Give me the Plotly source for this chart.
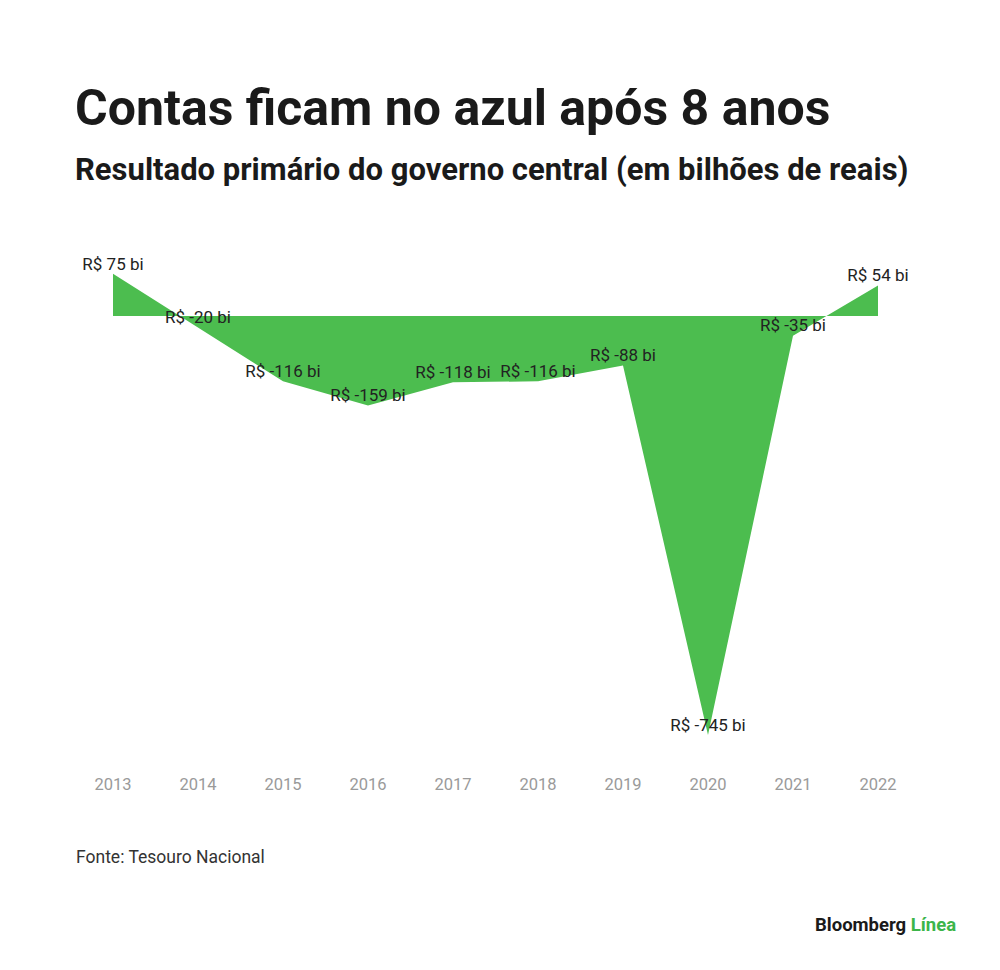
import plotly.graph_objects as go

# Resultado primário do governo central, R$ bilhões
years = [2013, 2014, 2015, 2016, 2017, 2018, 2019, 2020, 2021, 2022]
values = [75, -20, -116, -159, -118, -116, -88, -745, -35, 54]
labels = [f"R$ {v} bi" for v in values]

W, H = 1000, 970
OFF = 8  # page body margin shifts everything by 8px
GREEN = "#4cbd4f"
FONT = "Roboto"


def py(pixel):
    # screen pixel row -> paper y
    return 1 - (pixel - OFF) / H


def px(pixel):
    return (pixel - OFF) / W


fig = go.Figure()

fig.add_trace(go.Scatter(
    x=years, y=values, mode="lines", fill="tozeroy",
    line=dict(width=0, color=GREEN), fillcolor=GREEN,
    hoverinfo="skip", showlegend=False,
))

fig.add_trace(go.Scatter(
    x=years, y=values, mode="text", text=labels,
    textposition="top center",
    textfont=dict(family=FONT, size=17, color="#222222"),
    cliponaxis=False, showlegend=False,
))

x0 = 113 - OFF
fig.update_xaxes(
    range=[2013 - x0 / 85, 2013 + (W - x0) / 85],
    domain=[0, 1],
    tickvals=years, ticktext=[str(y) for y in years],
    tickfont=dict(family=FONT, size=16.5, color="#9a9a9a"),
    showgrid=False, zeroline=False, showline=False, ticks="",
    ticklabelstandoff=6,
)
fig.update_yaxes(
    range=[-800, 150],
    domain=[py(766), py(231.6)],
    visible=False, showgrid=False, zeroline=False,
)

annotations = [
    dict(text="<b>Contas ficam no azul após 8 anos</b>", x=px(73), y=py(108),
         font=dict(family=FONT, size=50, color="#1a1a1a")),
    dict(text="<b>Resultado primário do governo central (em bilhões de reais)</b>",
         x=px(73), y=py(170), font=dict(family=FONT, size=31, color="#1a1a1a")),
    dict(text="Fonte: Tesouro Nacional", x=px(74), y=py(857),
         font=dict(family=FONT, size=17.5, color="#333333")),
]
for a in annotations:
    a.update(xref="paper", yref="paper", xanchor="left", yanchor="middle",
             showarrow=False)

annotations.append(dict(
    text="<b>Bloomberg <span style='color:#3cb54a'>Línea</span></b>",
    x=px(958), y=py(925), xref="paper", yref="paper",
    xanchor="right", yanchor="middle", showarrow=False,
    font=dict(family=FONT, size=18.5, color="#1a1a1a"),
))

fig.update_layout(
    width=W, height=H,
    margin=dict(l=0, r=0, t=0, b=0),
    paper_bgcolor="white", plot_bgcolor="white",
    annotations=annotations,
    hovermode=False,
)

fig.write_html("out.html")
